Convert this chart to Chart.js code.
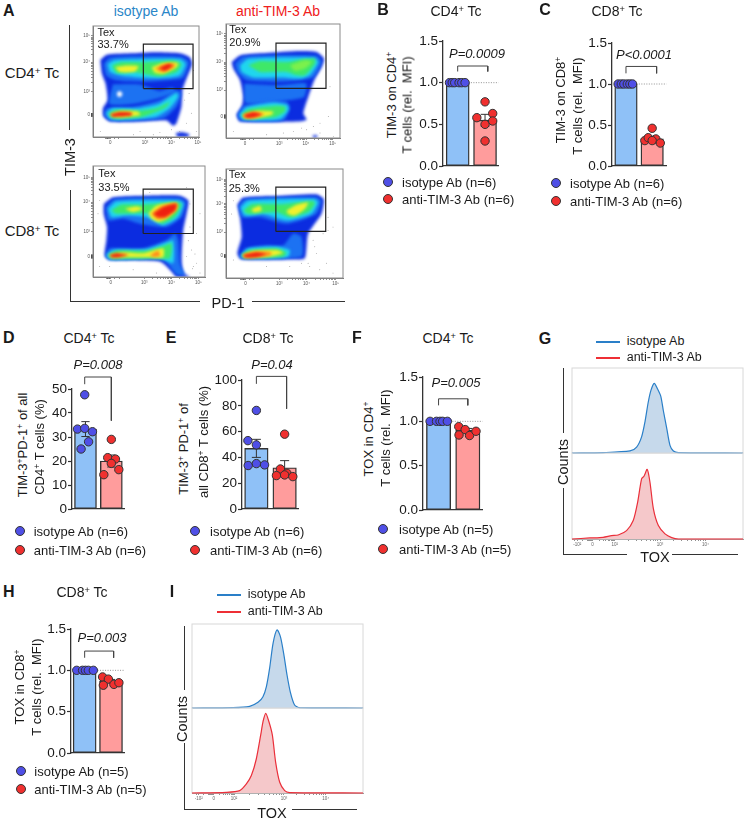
<!DOCTYPE html>
<html><head><meta charset="utf-8">
<script src="https://cdn.jsdelivr.net/npm/chart.js@4"></script>
<style>
html,body{margin:0;padding:0;background:#fff;width:751px;height:822px;overflow:hidden}
#page{position:relative;width:751px;height:822px;font-family:"Liberation Sans",Arial,sans-serif;color:#1a1a1a}
canvas{position:absolute}
.t{position:absolute;white-space:nowrap;line-height:1}
.t sup{font-size:.66em;line-height:0;vertical-align:baseline;position:relative;top:-.42em}
.r{position:absolute;background:#333}
.c{position:absolute;width:8px;height:8px;border-radius:50%;border:1px solid #333;box-sizing:content-box}
</style></head><body><div id="page"></div>
<script>
// ---------- bar panels: values ----------
const barLabels = ['isotype Ab', 'anti-TIM-3 Ab'];
const bMeans = [1, 0.55],  bErr = [0, 0.07];
const bIso = [1,1,1,1,1,1],                bIsoJit = [-.3,-.2,-.11,.05,.15,.27];
const bAnti = [.77,.58,.63,.5,.54,.30],    bAntiJit = [0,-.3,.28,0,.28,0];
const cMeans = [1, 0.33],  cErr = [0, 0.03];
const cIso = [1,1,1,1,1,1],                cIsoJit = [-.3,-.18,-.08,.05,.15,.25];
const cAnti = [.46,.31,.345,.33,.31,.28],  cAntiJit = [0,-.28,-.15,.14,0,.31];
const dMeans = [33.3, 20], dErr = [3.1, 2.5];
const dIso = [47.6,33.3,33.6,32.2,28,25],  dIsoJit = [-.03,-.31,-.03,.27,.12,-.17];
const dAnti = [29,21.4,20.8,19,14.3,16.4], dAntiJit = [0,-.14,.16,0,-.29,.29];
const eMeans = [47, 32],   eErr = [7, 5.5];
const eIso = [76.4,53,49.7,33.7,35.2,34.2],eIsoJit = [0,-.3,0,-.29,0,.29];
const eAnti = [58,31,27.7,25.9,26.4,25.1], eAntiJit = [0,-.15,.08,-.29,0,.29];
const fMeans = [1, 0.9],   fErr = [0, 0.02];
const fIso = [1,1,1,1,1],                  fIsoJit = [-.29,-.07,.05,.14,.3];
const fAnti = [.94,.907,.846,.84,.888],    fAntiJit = [-.31,-.09,-.3,.06,.28];
const hMeans = [1, 0.87],  hErr = [0, 0.02];
const hIso = [1,1,1,1,1],                  hIsoJit = [-.3,-.08,.03,.14,.33];
const hAnti = [.92,.894,.82,.83,.85],      hAntiJit = [-.32,-.1,-.29,.11,.3];

// ---------- histogram curves: TOX channel (% of axis), counts (% of lane) ----------
const gToxBlue = [0,18.2,33.9,37.8,40.7,42.7,44.6,46.2,48.1,49.9,51.9,53.4,55.4,57.3,59.3,62.2,100];
const gCntBlue = [0,.5,2.4,7,19,37,60,74,82,76,67,50,29,9,2.4,.4,0];
const gToxRed  = [0,10.4,18.2,23.1,27,31.9,35.8,38.4,40.7,42.1,44,45.6,47.6,50.5,54.4,58.3,62.2,100];
const gCntRed  = [0,1.2,2,3.9,4.7,9.8,21.5,43,70,73,81,66,35,15.6,5.9,1.6,0,0];
const iToxBlue = [0,24,33.7,38.6,41.5,43.5,45.4,47.4,49.7,51.7,53.6,55.6,57.5,60,63,100];
const iCntBlue = [0,.4,2,6.8,13.5,25.5,47.4,77,93,85,65,39,19,3.6,.4,0];
const iToxRed  = [0,20,27.9,31.8,34.7,37.6,40.5,41.5,43.1,45,47,48.9,51.3,54.2,57.1,100];
const iCntRed  = [0,.8,2.8,10.7,20.5,40,72,83.8,93.7,83.8,68,36.4,12.6,2.8,.4,0];
const gTickVals = [3,12,25,51.5,78], iTickVals = [4,12.7,24.6,53.8,78.2];
const histTickLabels = ['-10²','0','10²','10³','10⁴'];

// ---------- flow density contours: [level, x,y, x,y, ...] in channel units ----------
const flowTickLabels = ['0','10³','10⁴','10⁵'];
const p1XTicks=[52,157,237,317], p1YTicks=[67,137,227,307];
const p2XTicks=[57,160,240,320], p2YTicks=[65,145,230,315];
const p3XTicks=[53,153,235,315], p3YTicks=[62,137,227,302];
const p4XTicks=[59,160,242,330], p4YTicks=[67,140,227,300];
const p1Contours = [
 [0,22,234,42,250,122,254,192,257,262,254,292,242,299,222,282,177,270,142,267,92,252,42,242,34,222,50,142,47,52,47,32,62,30,87,44,112,38,162,27,192],
 [0,250,12,272,14,292,8,285,0,255,0],
 [1,60,160,140,160,200,140,240,150,250,135,190,115,120,100,50,100],
 [1,32,222,52,242,172,247,267,244,290,227,272,180,222,172,152,167,72,172,40,187],
 [1,32,67,42,87,122,92,202,112,252,142,267,132,252,92,212,57,122,50,52,50],
 [2,44,222,67,234,262,237,280,222,262,187,212,180,152,180,82,187,52,197],
 [2,40,72,57,87,132,87,202,102,252,134,257,122,232,87,192,62,122,54,52,54],
 [3,57,217,82,227,162,227,242,232,267,222,252,197,202,184,162,190,122,197,72,194],
 [3,47,70,67,82,142,80,192,87,232,107,222,92,192,77,142,60,62,57],
 [4,67,212,102,217,137,215,127,199,82,197],
 [4,177,212,212,225,257,225,252,212,212,192,187,195],
 [4,52,70,82,79,137,77,142,67,82,59,57,62],
 [5,187,207,212,220,247,222,244,212,212,197],
 [6,200,209,227,222,240,217,217,202],
 [6,54,70,82,76,117,74,117,66,82,62,57,62],
 [7,72,134,80,140,89,132,84,122,74,124]
];
const p2Contours = [
 [0,17,230,42,250,122,257,222,263,272,260,294,240,287,215,267,180,247,125,232,75,242,55,222,50,42,50,32,70,47,95,52,125,42,175,22,210],
 [0,258,6,268,9,276,5,266,0],
 [1,55,165,160,160,240,165,235,125,190,115,60,105],
 [1,27,225,52,247,272,250,287,230,262,183,162,170,62,175,34,200],
 [1,34,70,52,97,142,115,182,110,192,90,172,53,42,53],
 [2,42,220,67,240,262,243,277,230,252,190,222,180,162,183,82,183,47,200],
 [2,40,70,62,93,142,107,184,100,187,85,162,57,52,55],
 [3,67,220,102,233,182,230,222,237,267,240,267,225,237,190,212,190,182,200,102,200],
 [3,47,70,67,87,142,97,177,95,177,80,147,63,57,59],
 [8,192,220,237,235,257,230,237,210,207,203],
 [4,50,70,92,82,142,80,137,70,92,60,57,60],
 [5,50,70,82,79,115,73,82,61,55,61],
 [6,55,70,82,77,107,71,82,63,60,62]
];
const p3Contours = [
 [0,32,222,60,242,170,247,260,247,285,232,280,192,270,142,265,52,270,12,290,0,250,0,235,17,200,47,50,52,35,67,40,112,42,152,32,192],
 [1,38,212,65,237,260,240,278,227,265,182,220,152,140,162,90,177,45,172],
 [1,35,62,50,87,150,87,220,112,245,132,255,112,260,42,275,7,250,7,210,52,50,52],
 [2,45,207,70,229,255,232,270,222,255,182,210,157,160,182,100,187,55,182],
 [2,40,67,60,82,160,84,225,107,240,112,240,42,200,57,50,54],
 [3,55,202,85,220,150,220,250,227,265,220,245,182,205,162,170,192,70,192],
 [3,45,67,70,80,160,80,210,94,235,102,230,57,190,57,55,57],
 [4,95,207,130,214,150,207,120,197],
 [4,165,192,190,217,250,225,252,207,220,177,195,167,175,177],
 [4,48,67,90,75,150,72,210,87,210,60,160,60,100,60,55,59],
 [5,175,192,205,215,250,224,248,204,215,178,192,176],
 [6,180,192,210,212,250,222,245,202,215,182,195,182],
 [6,50,67,70,72,105,67,70,59,55,60],
 [5,172,67,195,80,200,64,175,62]
];
const p4Contours = [
 [0,34,223,52,245,162,250,272,255,294,240,287,195,247,135,237,60,202,57,47,57,34,75,47,125,42,185],
 [1,38,220,57,240,272,247,287,235,272,195,182,165,102,185,47,185],
 [1,40,65,57,90,122,100,172,100,202,135,227,125,227,65,47,60],
 [2,44,215,67,235,267,240,277,230,257,195,182,175,112,195,57,190],
 [2,44,67,67,90,152,95,192,85,187,65,52,60],
 [3,52,205,77,225,172,225,262,235,267,225,247,200,192,185,152,200,67,195],
 [3,47,70,72,85,152,90,182,78,172,65,57,62],
 [4,77,210,102,220,107,205,82,200],
 [4,182,205,212,223,247,230,237,210,207,190,187,195],
 [4,50,70,82,82,152,85,172,77,142,67,57,62],
 [5,50,70,82,79,135,79,135,69,82,63,55,63],
 [6,52,70,92,78,122,73,92,64,57,63]
];
const p1Gate=[152,147,302,282], p2Gate=[150,150,300,287], p3Gate=[150,132,300,267], p4Gate=[150,142,300,277];
const p1Dots=[[222,2],[142,17],[202,14],[282,42],[297,72],[312,17],[122,7],[262,17],[277,112],[290,132],[237,22],[182,7],[304,202],[22,17]];
const p2Dots=[[22,20],[122,10],[172,15],[242,25],[262,35],[282,45],[307,65],[322,5],[282,15],[312,155],[227,30],[202,20]];
const p3Dots=[[20,232],[15,192],[290,152],[310,132],[295,82],[310,42],[320,12],[300,32],[20,32],[50,32],[120,22],[190,12],[280,272],[170,257],[290,222],[320,192],[285,110],[305,70],[280,62],[298,25]];
const p4Dots=[[22,235],[17,195],[307,185],[292,135],[262,115],[272,75],[302,45],[252,35],[282,25],[322,15],[267,95],[247,45],[307,145],[22,55],[122,35],[192,35],[227,45],[322,155]];

// ---------- drawing helpers ----------
const page = document.getElementById('page');
const FONT = '"Liberation Sans", Arial, sans-serif';
Chart.defaults.font.family = FONT;
Chart.defaults.animation = false;
Chart.defaults.responsive = false;
Chart.defaults.plugins.legend.display = false;
Chart.defaults.plugins.tooltip.enabled = false;
Chart.defaults.events = [];

function text(x,y,html,o={}){
  const d=document.createElement('div'); d.className='t'; d.innerHTML=html;
  d.style.left=x+'px'; d.style.top=y+'px'; d.style.fontSize=(o.size||13)+'px';
  if(o.bold)d.style.fontWeight='bold'; if(o.italic)d.style.fontStyle='italic';
  if(o.color)d.style.color=o.color;
  const tx=o.left?'0':'-50%';
  d.style.transform=`translate(${tx},-50%)`+(o.rot?' rotate(-90deg)':'');
  page.appendChild(d);
}
function rule(x0,y0,x1,y1,color,thick){
  const d=document.createElement('div'); d.className='r';
  d.style.left=Math.min(x0,x1)+'px'; d.style.top=Math.min(y0,y1)+'px';
  d.style.width=Math.max(thick||1,Math.abs(x1-x0))+'px'; d.style.height=Math.max(thick||1,Math.abs(y1-y0))+'px';
  if(color)d.style.background=color;
  page.appendChild(d);
}
function newCanvas(left,top,w,h){
  const c=document.createElement('canvas'); c.width=w; c.height=h;
  c.style.left=left+'px'; c.style.top=top+'px'; c.style.width=w+'px'; c.style.height=h+'px';
  page.appendChild(c); return c.getContext('2d');
}
const ISO_BAR='#8fc1f7', ANTI_BAR='#ff9c9c', ISO_PT='#4f4fe6', ANTI_PT='#f0302f', DARK='#333';

function barPanel(g,means,errs,iso,isoJ,anti,antiJ,br,dotted,step,yMax,fmt){
  const ml=40, mt=30, mb=10, mr=6;
  const unit=g.c2-g.c1, xMin=1-(g.c1-g.l)/unit, xMax=2+(g.r-g.c2)/unit;
  const W=g.r-g.l, H=g.b-g.t;
  const ctx=newCanvas(g.l-ml,g.t-mt,Math.ceil(W+ml+mr),Math.ceil(H+mt+mb));
  const pts=(v,j,c)=>v.map((y,i)=>({x:c+j[i],y}));
  const errData=[];
  means.forEach((m,i)=>{ if(errs[i]){ const x=i+1, cap=.16;
    errData.push({x,y:m-errs[i]},{x,y:m+errs[i]},{x:NaN,y:NaN},
      {x:x-cap,y:m+errs[i]},{x:x+cap,y:m+errs[i]},{x:NaN,y:NaN},
      {x:x-cap,y:m-errs[i]},{x:x+cap,y:m-errs[i]},{x:NaN,y:NaN}); }});
  const ds=[
    {type:'bar',label:'mean',data:means.map((y,i)=>({x:i+1,y})),backgroundColor:[ISO_BAR,ANTI_BAR],borderColor:DARK,borderWidth:1.4,barThickness:g.bw,borderSkipped:false,order:6},
    {type:'scatter',label:'sem',data:errData,showLine:true,borderColor:DARK,borderWidth:1,pointRadius:0,clip:false,order:3,spanGaps:false},
    {type:'scatter',label:barLabels[0],data:pts(iso,isoJ,1),backgroundColor:ISO_PT,borderColor:DARK,borderWidth:1,pointRadius:4.2,clip:false,order:2},
    {type:'scatter',label:barLabels[1],data:pts(anti,antiJ,2),backgroundColor:ANTI_PT,borderColor:DARK,borderWidth:1,pointRadius:4.2,clip:false,order:2},
    {type:'scatter',label:'bracket',data:br.map(p=>({x:p[0],y:p[1]})),showLine:true,borderColor:'#444',borderWidth:1,pointRadius:0,clip:false,order:1}
  ];
  if(dotted) ds.push({type:'scatter',label:'ref',data:[{x:1.3,y:1},{x:xMax+.02,y:1}],showLine:true,borderColor:'#777',borderWidth:.8,borderDash:[1,1.5],pointRadius:0,clip:false,order:5});
  new Chart(ctx,{type:'bar',data:{datasets:ds},options:{
    layout:{padding:{top:mt,right:mr,left:0,bottom:0}},
    scales:{
      x:{type:'linear',min:xMin,max:xMax,offset:false,grid:{display:false,offset:false},border:{color:DARK,width:1.3},ticks:{display:false},afterFit:s=>{s.height=mb}},
      y:{type:'linear',min:0,max:yMax,grid:{drawOnChartArea:false,tickLength:4,tickColor:DARK,tickWidth:1.2},border:{color:DARK,width:1.3},
        ticks:{stepSize:step,color:'#1a1a1a',font:{size:13.5},padding:1,callback:v=>fmt?v.toFixed(1):v},afterFit:s=>{s.width=ml}}
    }}});
}

function minorTicks(maj,dense,first){
  const out=[...maj];
  for(let i=0;i<maj.length-1;i++){ if(i===0&&!first) continue;
    [.3,.48,.6,.7,.78,.85,.9,.95].forEach(f=>out.push(maj[i]+(maj[i+1]-maj[i])*f)); }
  dense.forEach(v=>out.push(v));
  return out;
}
const ticksFrom=(list,labels,majors)=>({
  after:s=>{s.ticks=list.map(v=>({value:v}))},
  cb:v=>{const i=majors.indexOf(v); return i>=0?labels[i]:''}
});
const LEVELS=['#0b2ce0','#1c72f2','#20d6ee','#3fe868','#f2f02c','#ff8a1c','#ef1f10','#ffffff','#7cf04c'];

function flowPlot(g,contours,gate,dots,xt,yt,xMaxC,yMaxC){
  const ml=16,mt=3,mb=12,mr=8,W=g.r-g.l,H=g.b-g.t;
  const ctx=newCanvas(g.l-ml,g.t-mt,Math.ceil(W+ml+mr),Math.ceil(H+mt+mb));
  const n=contours.length;
  const ds=contours.map((c,i)=>{
    const lvl=c[0], data=[];
    for(let k=1;k<c.length;k+=2) data.push({x:c[k],y:c[k+1]});
    data.push({...data[0]});
    return {type:'scatter',label:'density '+lvl,data,showLine:true,fill:'shape',backgroundColor:LEVELS[lvl],borderColor:LEVELS[lvl],borderWidth:0,pointRadius:0,tension:.2,order:100-i};
  });
  const [gx0,gy0,gx1,gy1]=gate;
  ds.push({type:'scatter',label:'Tex gate',data:[{x:gx0,y:gy0},{x:gx1,y:gy0},{x:gx1,y:gy1},{x:gx0,y:gy1},{x:gx0,y:gy0}],showLine:true,borderColor:'#222',borderWidth:1.2,pointRadius:0,order:1,clip:false});
  ds.push({type:'scatter',label:'events',data:dots.map(p=>({x:p[0],y:p[1]})),backgroundColor:'#777',borderWidth:0,pointRadius:.45,order:2});
  const xz=xt[0], yz=yt[0];
  const xl=minorTicks(xt,[xz-14,xz-11,xz-9,xz-7,xz-5,xz-3,xz+12,xz+25],false);
  const yl=minorTicks(yt,[yz-5,yz-4,yz-3,yz-2,yz-1,yz+1,yz+2,yz+3,yz+4,yz+5],false);
  const xT=ticksFrom(xl,flowTickLabels,xt), yT=ticksFrom(yl,flowTickLabels,yt);
  new Chart(ctx,{type:'scatter',data:{datasets:ds},
    plugins:[{id:'blurDensity',
      beforeDatasetsDraw(ch){ch.ctx.save();ch.ctx.filter='blur(1.4px)'},
      afterDatasetDraw(ch,a){ if(a.index===n-1) ch.ctx.filter='none'; },
      afterDatasetsDraw(ch){ch.ctx.restore();},
      afterDraw(ch){const a=ch.chartArea,c=ch.ctx;c.save();c.strokeStyle='#8a8a8a';c.lineWidth=1;c.strokeRect(a.left,a.top,a.right-a.left,a.bottom-a.top);c.restore();}
    }],
    options:{layout:{padding:{top:mt,right:mr,left:0,bottom:0}},
      scales:{
        x:{type:'linear',min:0,max:xMaxC,grid:{drawOnChartArea:false,tickLength:2,tickColor:'#444',tickWidth:.6},border:{color:'#777'},
           afterBuildTicks:xT.after,afterFit:s=>{s.height=mb},
           ticks:{autoSkip:false,maxRotation:0,color:'#555',font:{size:4.5},padding:1,callback:xT.cb}},
        y:{type:'linear',min:0,max:yMaxC,grid:{drawOnChartArea:false,tickLength:2,tickColor:'#444',tickWidth:.6},border:{color:'#777'},
           afterBuildTicks:yT.after,afterFit:s=>{s.width=ml},
           ticks:{autoSkip:false,maxRotation:0,color:'#555',font:{size:4.5},padding:1,callback:yT.cb}}
      }}});
}

function histLane(g,tox,cnt,line,fillc,tickVals,showTicks){
  const ml=4,mt=2,mr=4,mb=showTicks?12:2,W=g.r-g.l,H=g.b-g.t;
  const ctx=newCanvas(g.l-ml,g.t-mt,Math.ceil(W+ml+mr),Math.ceil(H+mt+mb));
  const xl=minorTicks(tickVals,[tickVals[1]-3,tickVals[1]-2.4,tickVals[1]-1.8,tickVals[1]-1.2,tickVals[1]-.6,tickVals[0]+3,tickVals[0]-1.5],false);
  const T=ticksFrom(xl,histTickLabels,tickVals);
  new Chart(ctx,{type:'scatter',data:{datasets:[
    {type:'scatter',label:'TOX',data:tox.map((x,i)=>({x,y:cnt[i]})),showLine:true,fill:'origin',backgroundColor:fillc,borderColor:line,borderWidth:1.2,pointRadius:0,tension:.25,clip:false}
  ]},plugins:[{id:'frame',beforeDatasetsDraw(ch){const a=ch.chartArea,c=ch.ctx;c.save();c.strokeStyle='#d8d8d8';c.lineWidth=1;c.strokeRect(a.left,a.top,a.right-a.left,a.bottom-a.top);c.restore();}}],
  options:{layout:{padding:{top:mt,right:mr,left:0,bottom:0}},
    scales:{
      x:{type:'linear',min:0,max:100,display:showTicks?true:false,grid:{drawOnChartArea:false,tickLength:2,tickColor:'#444',tickWidth:.6},border:{color:'#888'},
         afterBuildTicks:T.after,afterFit:s=>{s.height=mb},
         ticks:{autoSkip:false,maxRotation:0,color:'#666',font:{size:4.5},padding:1,callback:T.cb}},
      y:{type:'linear',min:0,max:100,display:true,grid:{display:false},border:{display:false},ticks:{display:false},afterFit:s=>{s.width=ml}}
    }}});
}
function legendDots(cx,tx,y0,y1,n){
  [[y0,ISO_PT,'isotype Ab'],[y1,ANTI_PT,'anti-TIM-3 Ab']].forEach(([y,c,l])=>{
    const d=document.createElement('div'); d.className='c'; d.style.left=(cx-5)+'px'; d.style.top=(y-5)+'px'; d.style.background=c; page.appendChild(d);
    text(tx,y,`${l} (n=${n})`,{left:true,size:13});
  });
}
function legendLines(x0,x1,tx,y0,y1){
  rule(x0,Math.round(y0),x1,Math.round(y0),'#2a7fc8',2); rule(x0,Math.round(y1),x1,Math.round(y1),'#ee2f35',2);
  text(tx,y0,'isotype Ab',{left:true,size:12.5}); text(tx,y1,'anti-TIM-3 Ab',{left:true,size:12.5});
}

// ---------- panel A ----------
flowPlot({l:93,r:199,t:25,b:137},p1Contours,p1Gate,p1Dots,p1XTicks,p1YTicks,320,337);
flowPlot({l:226,r:340,t:23,b:138},p2Contours,p2Gate,p2Dots,p2XTicks,p2YTicks,342,345);
flowPlot({l:93,r:205,t:165,b:277},p3Contours,p3Gate,p3Dots,p3XTicks,p3YTicks,335,337);
flowPlot({l:226,r:343,t:168,b:278},p4Contours,p4Gate,p4Dots,p4XTicks,p4YTicks,352,332);
text(3,11,'A',{left:true,size:16,bold:true});
text(146,11,'isotype Ab',{size:14,color:'#2a86c8'});
text(278,11,'anti-TIM-3 Ab',{size:14,color:'#f02020'});
text(32,72,'CD4<sup>+</sup> Tc',{size:15}); text(32,230,'CD8<sup>+</sup> Tc',{size:15});
text(70,157,'TIM-3',{size:14.5,rot:true}); text(228,303,'PD-1',{size:14.5});
rule(69,25,69,130); rule(70,190,70,301); rule(70,300.5,200,300.5); rule(252,300.5,345,300.5);
[[97.5,31.7,'Tex'],[97.5,44,'33.7%'],[229.3,29,'Tex'],[229.3,42,'20.9%'],[98.3,173,'Tex'],[98.3,187,'33.5%'],[228.7,174,'Tex'],[228.7,187.7,'25.3%']]
  .forEach(a=>text(a[0],a[1],a[2],{left:true,size:11}));

// ---------- panels B C D E F H ----------
barPanel({l:442.7,r:497,t:40.7,b:165,c1:457.2,c2:484.2,bw:23},bMeans,bErr,bIso,bIsoJit,bAnti,bAntiJit,[[1,1.134],[1,1.2],[2.1,1.2],[2.1,1.134]],true,.5,1.5,true);
barPanel({l:611.7,r:665,t:42.7,b:165,c1:625.5,c2:651.35,bw:22.5},cMeans,cErr,cIso,cIsoJit,cAnti,cAntiJit,[[1,1.13],[1,1.214],[2.17,1.214],[2.17,1.13]],true,.5,1.5,true);
barPanel({l:71.7,r:123,t:389,b:509,c1:85,c2:110.5,bw:22},dMeans,dErr,dIso,dIsoJit,dAnti,dAntiJit,[[.97,52],[.97,55],[2,55],[2,36.8]],false,10,50,false);
barPanel({l:242.3,r:298,t:380.3,b:509,c1:256.6,c2:284.7,bw:23.5},eMeans,eErr,eIso,eIsoJit,eAnti,eAntiJit,[[1,97],[1,102.8],[2.07,102.8],[2.07,77.7]],false,20,100,false);
barPanel({l:423.3,r:481.7,t:376.7,b:509,c1:438.7,c2:467.65,bw:24.3},fMeans,fErr,fIso,fIsoJit,fAnti,fAntiJit,[[1,1.18],[1,1.254],[2,1.254],[2,1.18]],true,.5,1.5,true);
barPanel({l:71,r:124,t:629,b:752.7,c1:84.65,c2:111,bw:23},hMeans,hErr,hIso,hIsoJit,hAnti,hAntiJit,[[1,1.152],[1,1.233],[2.1,1.233],[2.1,1.152]],true,.5,1.5,true);

text(383,10,'B',{size:16,bold:true}); text(456,11,'CD4<sup>+</sup> Tc',{size:14});
text(545,10,'C',{size:16,bold:true}); text(617,11,'CD8<sup>+</sup> Tc',{size:14});
text(3,338,'D',{left:true,size:16,bold:true}); text(89,338,'CD4<sup>+</sup> Tc',{size:14});
text(171,338,'E',{size:16,bold:true}); text(268,338,'CD8<sup>+</sup> Tc',{size:14});
text(357,338,'F',{size:16,bold:true}); text(448,338,'CD4<sup>+</sup> Tc',{size:14});
text(545,339,'G',{size:16,bold:true});
text(3,592,'H',{left:true,size:16,bold:true}); text(82,592,'CD8<sup>+</sup> Tc',{size:14});
text(172,592,'I',{size:16,bold:true});

text(477,53,'P=0.0009',{size:13,italic:true}); text(644,54,'P&lt;0.0001',{size:13,italic:true});
text(98,364,'P=0.008',{size:13,italic:true}); text(272,364,'P=0.04',{size:13,italic:true});
text(456,382,'P=0.005',{size:13,italic:true}); text(102,637,'P=0.003',{size:13,italic:true});

text(390.7,95,'TIM-3 on CD4<sup>+</sup>',{rot:true}); text(407,105,'T cells (rel.&nbsp; MFI)',{rot:true});
text(560,100,'TIM-3 on CD8<sup>+</sup>',{rot:true}); text(576.7,106,'T cells (rel.&nbsp; MFI)',{rot:true});
text(21.7,445,'TIM-3<sup>+</sup>PD-1<sup>+</sup> of all',{rot:true}); text(39.3,447,'CD4<sup>+</sup> T cells (%)',{rot:true});
text(183,449,'TIM-3<sup>+</sup> PD-1<sup>+</sup> of',{rot:true}); text(203,442,'all CD8<sup>+</sup> T cells (%)',{rot:true});
text(368,439,'TOX in CD4<sup>+</sup>',{rot:true}); text(385,438,'T cells (rel.&nbsp; MFI)',{rot:true});
text(19.3,687,'TOX in CD8<sup>+</sup>',{rot:true}); text(35.7,687,'T cells (rel.&nbsp; MFI)',{rot:true});

legendDots(388,402,182,199,6);
legendDots(555.7,570,183,201,6);
legendDots(20,33.7,530.7,550,6);
legendDots(195,210,530.7,550,6);
legendDots(383.3,399,529,549,5);
legendDots(20.7,34.3,770.7,789,5);

// ---------- panels G and I ----------
const BL='#2a7fc8',BF='#c6d9eb',RL='#ea2f3a',RF='#f5c8ca';
histLane({l:572.3,r:742.7,t:368.3,b:453},gToxBlue,gCntBlue,BL,BF,gTickVals,false);
histLane({l:572.3,r:742.7,t:453,b:538.3},gToxRed,gCntRed,RL,RF,gTickVals,true);
histLane({l:192.3,r:363.3,t:624.3,b:708},iToxBlue,iCntBlue,BL,BF,iTickVals,false);
histLane({l:192.3,r:363.3,t:708,b:792.3},iToxRed,iCntRed,RL,RF,iTickVals,true);
legendLines(596,620,626.7,340.7,357.3);
legendLines(216.7,240.7,247.7,594,610.7);
text(562.7,462,'Counts',{size:14.5,rot:true}); text(655,556.7,'TOX',{size:14.5});
rule(563,368,563,433); rule(563,488,563,554); rule(563,554,627,554); rule(672,554,738,554);
text(181.7,719,'Counts',{size:14.5,rot:true}); text(272,813,'TOX',{size:14.5});
rule(184,626,184,690); rule(184,743,184,809); rule(184,809,250,809); rule(292,809,357,809);
</script></body></html>
